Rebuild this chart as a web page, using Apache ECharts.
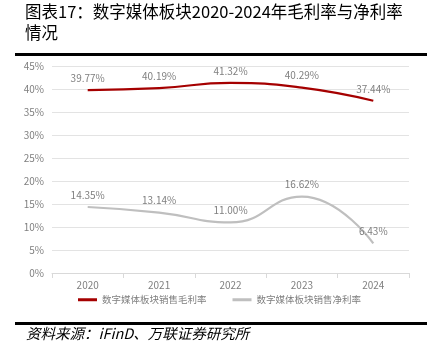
<!DOCTYPE html>
<html>
<head>
<meta charset="utf-8">
<script src="https://cdn.jsdelivr.net/npm/echarts@6/dist/echarts.min.js"></script>
<style>
html,body{margin:0;padding:0;background:#fff;}
#chart{width:439px;height:354px;}
</style>
</head>
<body>
<div id="chart"></div>
<script>
var years = ['2020', '2021', '2022', '2023', '2024'];
var grossMargin = [39.77, 40.19, 41.32, 40.29, 37.44];
var netMargin = [14.35, 13.14, 11.00, 16.62, 6.43];
var yTicks = [0, 45, 5];

var myChart = echarts.init(document.getElementById('chart'));
var font = '"Noto Sans CJK SC", serif';
var pct = function (p) { return p.value.toFixed(2) + '%'; };

var option = {
	animation: false,
	backgroundColor: '#fff',
	title: {
		text: '图表17：数字媒体板块2020-2024年毛利率与净利率\n情况',
		left: 25,
		top: 1,
		padding: 0,
		textStyle: {
			fontFamily: font,
			fontSize: 16.5,
			fontWeight: 'normal',
			color: '#000',
			lineHeight: 21
		}
	},
	graphic: [
		{type: 'rect', shape: {x: 15, y: 53, width: 412, height: 3}, style: {fill: '#000'}},
		{type: 'rect', shape: {x: 15, y: 322, width: 412, height: 3}, style: {fill: '#000'}},
		{type: 'text', left: 26, top: 326, style: {
			text: '资料来源：iFinD、万联证券研究所',
			font: 'italic 14.5px ' + font,
			fill: '#000'
		}}
	],
	legend: {
		top: 290,
		left: 'center',
		itemWidth: 19,
		itemHeight: 3,
		itemGap: 26,
		icon: 'rect',
		textStyle: {fontFamily: font, fontSize: 9.5, color: '#7f7f7f'},
		data: ['数字媒体板块销售毛利率', '数字媒体板块销售净利率']
	},
	grid: {left: 52, right: 30, top: 66, bottom: 81},
	xAxis: {
		type: 'category',
		data: years,
		axisLine: {lineStyle: {color: '#d9d9d9'}},
		axisTick: {show: true, lineStyle: {color: '#d9d9d9'}},
		axisLabel: {fontFamily: font, fontSize: 10, color: '#7f7f7f', margin: 7}
	},
	yAxis: {
		type: 'value',
		min: yTicks[0],
		max: yTicks[1],
		interval: yTicks[2],
		axisLine: {show: false},
		axisTick: {show: false},
		axisLabel: {formatter: '{value}%', fontFamily: font, fontSize: 10, color: '#7f7f7f', margin: 8},
		splitLine: {lineStyle: {color: '#e3e3e3'}}
	},
	series: [
		{
			name: '数字媒体板块销售毛利率',
			type: 'line',
			smooth: true,
			symbol: 'circle',
			symbolSize: 0,
			data: grossMargin,
			itemStyle: {color: '#a50000'},
			lineStyle: {color: '#a50000', width: 2.2},
			label: {show: true, position: 'top', distance: 7, formatter: pct,
				fontFamily: font, fontSize: 10, color: '#7f7f7f'}
		},
		{
			name: '数字媒体板块销售净利率',
			type: 'line',
			smooth: true,
			symbol: 'circle',
			symbolSize: 0,
			data: netMargin,
			itemStyle: {color: '#bfbfbf'},
			lineStyle: {color: '#bfbfbf', width: 2.2},
			label: {show: true, position: 'top', distance: 7, formatter: pct,
				fontFamily: font, fontSize: 10, color: '#7f7f7f'}
		}
	]
};

myChart.setOption(option);
</script>
</body>
</html>
